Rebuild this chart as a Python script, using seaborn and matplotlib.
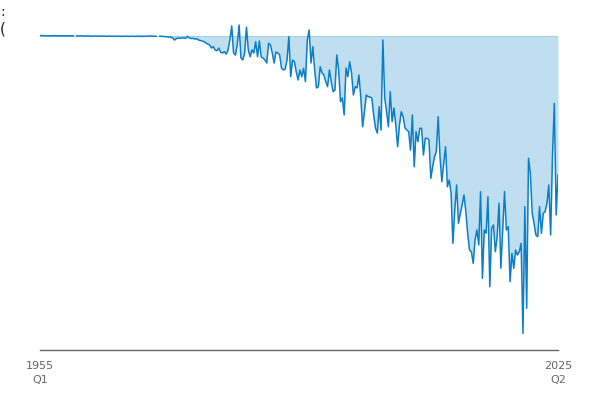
import numpy as np
import pandas as pd
import matplotlib
matplotlib.use("Agg")
import matplotlib.pyplot as plt
import seaborn as sns

# quarterly series, 1955 Q1 .. 2025 Q2 (arbitrary units)
vals_1955_1969 = [
    0.5, 0.3, 0.4, 0.2, 0.3, 0.1, 0.3, 0.2, 0.4, 0.2, 0.1, 0.3, 0.2, 0.0, 0.2, 0.1,
    0.3, 0.1, 0.2, np.nan, 0.1, 0.0, 0.2, 0.1, 0.0, -0.1, 0.1, 0.0, -0.2, 0.0, -0.1, -0.2,
    0.0, -0.1, -0.2, -0.1, -0.3, -0.2, -0.1, -0.3, -0.2, -0.3, -0.1, -0.2, -0.4, -0.2, -0.3, -0.1,
    -0.4, -0.3, -0.2, -0.4, -0.3, -0.1, -0.3, -0.2, -0.4, -0.2, -0.1, -0.2,
]
vals_1970_1984 = [
    0.0, 0.0, -0.2, -0.3, np.nan, -0.3, -0.3, -0.5, -0.6, -0.8, -1.0, -1.2, -2.0, -4.0, -2.5, -2.0,
    -2.3, -1.8, -2.0, -2.3, -0.3, -2.0, -2.5, -2.3, -3.0, -2.7, -4.0, -4.5, -5.0, -5.7, -7.0, -8.0,
    -9.0, -12.0, -10.7, -14.0, -14.7, -12.0, -16.3, -17.0, -15.7, -18.0, -14.0, -4.0, 10.0, -17.0,
    -19.0, -9.0, 11.0, -22.0, -24.0, -17.0, 8.7, -14.0, -20.7, -14.0, -17.0, -5.7, -20.7, -5.0,
]
vals_1985_1999 = [
    -21.0, -22.0, -24.0, -27.0, -7.3, -9.0, -17.0, -27.0, -16.0, -17.0, -19.0, -32.0, -34.0, -33.0,
    -24.0, -0.7, -40.7, -24.0, -25.7, -35.7, -44.0, -34.0, -40.7, -32.3, -45.7, -4.0, 6.0, -27.0,
    -10.7, -34.0, -52.0, -50.7, -30.7, -37.0, -39.0, -45.7, -50.7, -34.0, -45.7, -55.7, -54.0, -19.0,
    -34.0, -65.7, -62.0, -79.0, -32.0, -40.7, -25.7, -37.0, -59.0, -50.7, -52.0, -39.0, -60.7, -90.7,
    -75.7, -59.0, -60.7, -61.0,
]
vals_2000_2014 = [
    -62.0, -79.0, -92.0, -97.0, -70.7, -94.0, -4.0, -62.0, -75.7, -90.7, -55.7, -85.7, -72.0, -89.0,
    -110.7, -89.0, -75.7, -80.7, -92.0, -94.0, -95.7, -114.0, -79.0, -130.7, -95.7, -105.7, -92.3,
    -92.3, -119.0, -102.3, -102.3, -104.0, -142.3, -130.7, -120.7, -115.7, -80.7, -120.7, -145.7,
    -127.3, -110.7, -150.7, -144.0, -157.3, -207.3, -174.0, -149.0, -187.3, -177.3, -169.0, -159.0,
    -175.7, -197.3, -214.0, -215.7, -227.3, -204.0, -194.0, -209.0, -155.7,
]
vals_2015_2025 = [
    -242.3, -194.0, -197.3, -160.7, -250.7, -192.3, -189.0, -215.7, -200.7, -167.3, -232.3, -194.0,
    -155.7, -194.0, -190.7, -245.7, -217.3, -232.3, -214.0, -219.0, -215.7, -207.3, -297.3, -170.7,
    -272.3, -122.3, -137.3, -177.3, -187.3, -199.0, -200.7, -170.7, -197.3, -177.3, -175.7, -167.3,
    -149.0, -199.0, -120.7, -67.3, -179.0, -139.0,
]
values = vals_1955_1969 + vals_1970_1984 + vals_1985_1999 + vals_2000_2014 + vals_2015_2025
first_label = "1955\nQ1"
last_label = "2025\nQ2"

df = pd.DataFrame({"q": np.arange(len(values)), "value": values})
# split the line wherever a quarter is missing, so the gaps show
df["seg"] = df["value"].isna().cumsum()
line_df = df.dropna()

line_col = "#0a7ec8"
fill_col = "#bfdff0"
grey = "#666666"

fig = plt.figure(figsize=(6, 4), dpi=100)
ax = fig.add_axes([40 / 600, 50 / 400, 518 / 600, 328 / 400])

ax.fill_between(df["q"], 0, df["value"].fillna(0), color=fill_col, linewidth=0)
ax.axhline(0, color="#a9cfe6", linewidth=0.8)
sns.lineplot(data=line_df, x="q", y="value", units="seg", estimator=None,
             ax=ax, color=line_col, linewidth=1.1)

ax.set_xlim(0, len(values) - 1)
ax.set_ylim(-314, 14)
ax.set_xticks([0, len(values) - 1])
ax.set_xticklabels([first_label, last_label], color=grey, fontsize=8, linespacing=1.5)
ax.tick_params(axis="x", length=0, pad=8)
ax.set_yticks([])
ax.set_xlabel("")
ax.set_ylabel("")
for side in ["top", "right", "left"]:
    ax.spines[side].set_visible(False)
ax.spines["bottom"].set_color(grey)
ax.spines["bottom"].set_linewidth(1.0)

# cut-off heading fragments at the left edge
fig.text(0.0, 1 - 12 / 400, ":", fontsize=10, color="#222222", va="center", ha="left")
fig.text(0.0, 1 - 29 / 400, "(", fontsize=11, color="#222222", va="center", ha="left")

fig.savefig("out.png", dpi=100)
